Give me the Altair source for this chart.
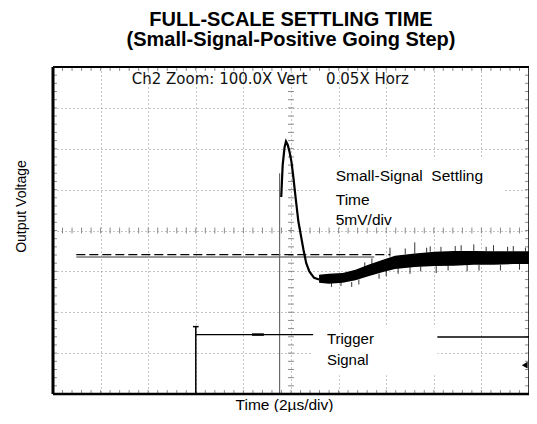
import altair as alt
import pandas as pd
import numpy as np

# ---- values (x in µs, 2 µs/div; y in mV, 5 mV/div, 0 = centre line)
X_DOMAIN = [0, 20]
Y_DOMAIN = [-20, 20]
x_grid = [0, 2, 4, 6, 8, 10, 12, 14, 16, 18, 20]
y_grid = [-20, -15, -10, -5, 0, 5, 10, 15, 20]

# rising edge, overshoot and fall of the output trace
edge_t = [9.59, 9.65, 9.73, 9.79, 9.86, 9.94, 10.02, 10.10, 10.19, 10.31, 10.44, 10.52, 10.64, 10.77, 10.97, 11.18]
edge_v = [4.1, 8.0, 10.2, 10.9, 10.5, 9.6, 8.4, 6.5, 4.1, 1.1, -1.0, -2.3, -4.0, -5.0, -5.8, -6.0]

# noisy settling tail: upper and lower envelope of the dense part of the trace
band_t = [11.18, 11.59, 12.17, 12.71, 13.25, 13.83, 14.37, 15.20, 16.03, 16.85, 17.68, 18.51, 19.34, 20.0]
band_hi = [-5.4, -5.3, -5.2, -4.8, -4.2, -3.6, -3.1, -2.8, -2.6, -2.5, -2.5, -2.55, -2.55, -2.55]
band_lo = [-6.4, -6.5, -6.4, -6.1, -5.6, -5.1, -4.7, -4.45, -4.35, -4.3, -4.2, -4.2, -4.1, -4.1]

# noise spikes sticking out of the band (base, tip)
spike_t = [11.7, 12.1, 12.55, 12.85, 13.1, 13.4, 13.7, 14.0, 14.16, 14.5, 14.8, 15.0, 15.20, 15.45,
           15.7, 15.85, 16.1, 16.3, 16.6, 16.9, 17.15, 17.4, 17.68, 17.9, 18.2, 18.51, 18.8, 19.1,
           19.34, 19.6, 19.85]
spike_a = [-6.4, -6.3, -6.3, -6.0, -4.6, -4.1, -5.3, -4.6, -3.2, -4.6, -2.9, -4.4, -2.8, -4.4,
           -2.7, -2.6, -4.3, -2.6, -4.3, -2.5, -2.5, -4.2, -2.5, -4.2, -2.5, -2.55, -4.2, -2.55,
           -2.55, -4.1, -2.55]
spike_b = [-6.9, -6.8, -6.9, -6.6, -3.9, -3.4, -5.9, -5.6, -2.1, -5.3, -2.2, -5.3, -1.45, -5.0,
           -2.1, -1.94, -5.2, -2.0, -4.9, -1.9, -1.8, -5.0, -1.7, -4.9, -2.0, -1.8, -4.9, -2.0,
           -1.9, -4.8, -2.1]

# final-value reference lines
ref_dash = {"t0": 0.98, "t1": 14.16, "v": -2.95}
ref_solid = {"t0": 0.98, "t1": 13.5, "v": -3.24}

# trigger signal segments (t0, t1, v0, v1, width)
trig_t0 = [6.0, 5.88, 6.0, 8.36, 16.15]
trig_t1 = [6.0, 6.12, 10.93, 8.86, 20.0]
trig_v0 = [-20.0, -11.76, -12.73, -12.73, -13.03]
trig_v1 = [-11.76, -11.76, -12.73, -12.73, -13.03]
trig_w = [1.5, 1.5, 1.2, 2.5, 1.5]

# thin step line
step_t = 9.52
step_v = [-20.0, 7.0]

# ground marker
marker_t, marker_v = 19.82, -16.48

labels_main = ["Small-Signal\u00a0 Settling", "Time", "5mV/div"]
labels_main_v = [6.06, 3.15, 0.73]
labels_main_t = 11.88
labels_trig = ["Trigger", "Signal"]
labels_trig_v = [-13.94, -16.48]
labels_trig_t = 11.51
header_text = ["Ch2 Zoom: 100.0X Vert", "0.05X Horz"]
header_t = [3.31, 11.47]
header_v = 17.94

title_lines = ["FULL-SCALE SETTLING TIME", "(Small-Signal-Positive Going Step)"]
x_title = "Time (2\u00b5s/div)"
y_title = "Output Voltage"

FONT = "Liberation Sans"

# ---- build tables
xs = alt.Scale(domain=X_DOMAIN, nice=False, zero=False)
ys = alt.Scale(domain=Y_DOMAIN, nice=False, zero=False)

minor_x = np.round(np.arange(0, 20.001, 0.4), 3)
minor_y = np.arange(-20, 20.001, 1.0)
tx = 0.166  # ~4 px in µs
ty = 0.48   # ~4 px in mV
rows = []
for m in minor_x:
    rows.append((m, m, 20, 20 - ty))
    rows.append((m, m, -20, -20 + ty))
    rows.append((m, m, -0.36, 0.36))
for m in minor_y:
    rows.append((0, tx, m, m))
    rows.append((20, 20 - tx, m, m))
    rows.append((10 - 0.124, 10 + 0.124, m, m))
ticks_df = pd.DataFrame(rows, columns=["x", "x2", "y", "y2"])

X_AX = alt.Axis(values=x_grid, grid=True, labels=False, ticks=False, domain=False,
                title=x_title, titleFont=FONT, titleFontSize=15.5, titleFontWeight="normal",
                titleColor="black", titlePadding=3, titleX=231)
Y_AX = alt.Axis(values=y_grid, grid=True, labels=False, ticks=False, domain=False,
                title=y_title, titleFont=FONT, titleFontSize=14, titleFontWeight="normal",
                titleColor="black", titleAngle=-90, titleX=-28, titleY=139,
                titleBaseline="alphabetic", titleAlign="center")

base_axes = alt.Chart(ticks_df).mark_rule(color="#8a8a8a", strokeWidth=1).encode(
    x=alt.X("x:Q", scale=xs, axis=X_AX),
    x2="x2:Q",
    y=alt.Y("y:Q", scale=ys, axis=Y_AX),
    y2="y2:Q",
)

boxes = alt.Chart(pd.DataFrame({
    "x": [11.18, 10.93], "x2": [18.92, 16.15], "y": [9.0, -11.6], "y2": [0.7, -17.7]
})).mark_rect(color="white").encode(x="x:Q", x2="x2:Q", y="y:Q", y2="y2:Q")

refs = alt.Chart(pd.DataFrame({
    "x": [ref_solid["t0"]], "x2": [ref_solid["t1"]], "y": [ref_solid["v"]]
})).mark_rule(color="#9a9a9a", strokeWidth=2).encode(x="x:Q", x2="x2:Q", y="y:Q")
refd = alt.Chart(pd.DataFrame({
    "x": [ref_dash["t0"]], "x2": [ref_dash["t1"]], "y": [ref_dash["v"]]
})).mark_rule(color="black", strokeWidth=1.2, strokeDash=[9, 4]).encode(x="x:Q", x2="x2:Q", y="y:Q")

step = alt.Chart(pd.DataFrame({"x": [step_t], "y": [step_v[0]], "y2": [step_v[1]]})).mark_rule(
    color="#6a6a6a", strokeWidth=1.2).encode(x="x:Q", y="y:Q", y2="y2:Q")

trig = alt.Chart(pd.DataFrame({"x": trig_t0, "x2": trig_t1, "y": trig_v0, "y2": trig_v1, "w": trig_w})).mark_rule(
    color="black").encode(x="x:Q", x2="x2:Q", y="y:Q", y2="y2:Q",
                          strokeWidth=alt.StrokeWidth("w:Q", scale=None, legend=None))

band = alt.Chart(pd.DataFrame({"t": band_t, "hi": band_hi, "lo": band_lo})).mark_area(
    color="black", interpolate="linear").encode(x="t:Q", y="hi:Q", y2="lo:Q")

spikes = alt.Chart(pd.DataFrame({"t": spike_t, "a": spike_a, "b": spike_b})).mark_rule(
    color="black", strokeWidth=0.8).encode(x="t:Q", y="a:Q", y2="b:Q")

edge = alt.Chart(pd.DataFrame({"t": edge_t, "v": edge_v})).mark_line(
    color="black", strokeWidth=2.2).encode(x="t:Q", y="v:Q", order=alt.Order("t:Q"))

marker = alt.Chart(pd.DataFrame({"t": [marker_t], "v": [marker_v]})).mark_point(
    shape="triangle-left", filled=True, color="black", size=45, opacity=1).encode(x="t:Q", y="v:Q")

txt_main = alt.Chart(pd.DataFrame({"t": [labels_main_t] * 3, "v": labels_main_v, "s": labels_main})).mark_text(
    font=FONT, fontSize=15.5, align="left", baseline="alphabetic", color="black").encode(
    x="t:Q", y="v:Q", text="s:N")
txt_trig = alt.Chart(pd.DataFrame({"t": [labels_trig_t] * 2, "v": labels_trig_v, "s": labels_trig})).mark_text(
    font=FONT, fontSize=15, align="left", baseline="alphabetic", color="black").encode(
    x="t:Q", y="v:Q", text="s:N")
txt_head = alt.Chart(pd.DataFrame({"t": header_t, "v": [header_v] * 2, "s": header_text})).mark_text(
    font="DejaVu Sans", fontSize=15, align="left", baseline="alphabetic", color="#111111").encode(
    x="t:Q", y="v:Q", text="s:N")

frame_v = alt.Chart(pd.DataFrame({"x": [0, 20], "w": [3, 1.5]})).mark_rule(color="black").encode(
    x="x:Q", strokeWidth=alt.StrokeWidth("w:Q", scale=None, legend=None))
frame_h = alt.Chart(pd.DataFrame({"y": [-20, 20], "w": [2.5, 2]})).mark_rule(color="black").encode(
    y="y:Q", strokeWidth=alt.StrokeWidth("w:Q", scale=None, legend=None))

chart = alt.layer(
    base_axes, boxes, refs, refd, step, trig, band, spikes, edge, marker,
    txt_main, txt_trig, txt_head, frame_v, frame_h,
).properties(
    width=476, height=327,
    title=alt.TitleParams(text=title_lines, font=FONT, fontSize=20, fontWeight="bold",
                          color="black", anchor="middle", lineHeight=20, offset=16),
    autosize=alt.AutoSizeParams(type="none"),
    padding={"left": 45, "top": 59, "right": 0, "bottom": 18},
).configure_view(stroke=None).configure_axis(
    gridColor="#8c8c8c", gridDash=[1, 3], gridWidth=1, gridOpacity=1
)

chart.save("out.html", embed_options={"renderer": "svg", "actions": False})
